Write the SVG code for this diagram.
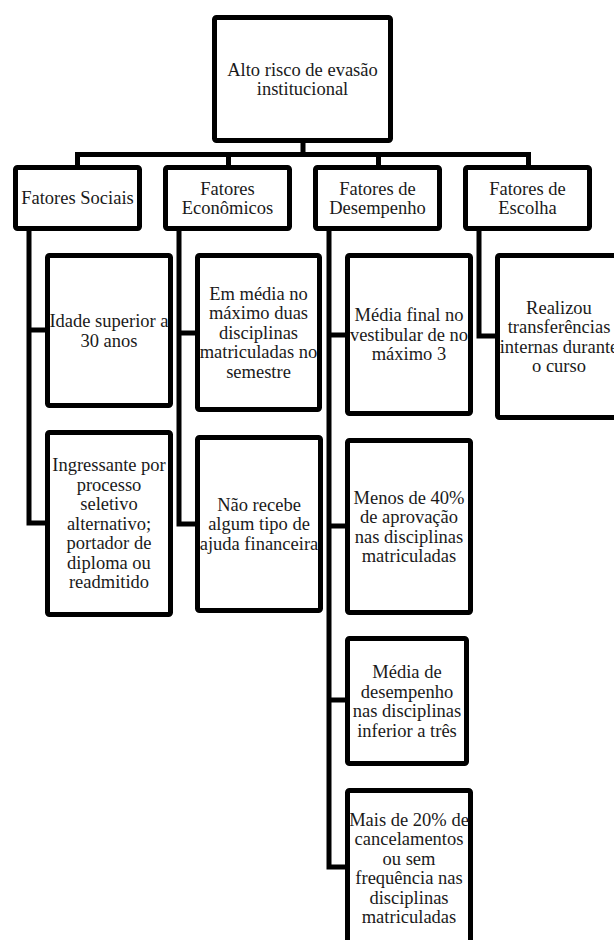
<svg xmlns="http://www.w3.org/2000/svg" width="614" height="940" viewBox="0 0 614 940">
<style>
.box{fill:#fff;stroke:#000;stroke-width:5;}
.conn{fill:none;stroke:#000;stroke-width:5;stroke-linejoin:miter;}
.t{font-size:18.5px;fill:#1a1a1a;text-anchor:middle;}
</style>
<rect width="614" height="940" fill="#fff"/>
<g id="connectors">
<path class="conn" d="M303 141 V154.5 M77.5 165 V154.5 H528.5 V165 M228.5 154.5 V165 M378.5 154.5 V165"/>
<path class="conn" d="M29 229 V523 H47 M29 330 H47"/>
<path class="conn" d="M179 229 V524 H197 M179 333 H197"/>
<path class="conn" d="M329 229 V867 H347 M329 335 H347 M329 526 H347 M329 700 H347"/>
<path class="conn" d="M479 229 V336 H497"/>
</g>
<g font-family="Liberation Serif, Times New Roman, Times, serif">
<g id="root">
<rect class="box" x="214.5" y="17.5" width="176" height="123" rx="2"/>
<text class="t"><tspan x="302.5" y="75.5">Alto risco de evasão</tspan><tspan x="302.5" y="95">institucional</tspan></text>
</g>
<g id="fatores-sociais">
<rect class="box" x="15.5" y="167.5" width="124" height="61" rx="2"/>
<text class="t" x="77.5" y="204.3">Fatores Sociais</text>
</g>
<g id="fatores-economicos">
<rect class="box" x="165.5" y="167.5" width="124" height="61" rx="2"/>
<text class="t"><tspan x="227.5" y="194.5">Fatores</tspan><tspan x="227.5" y="214">Econômicos</tspan></text>
</g>
<g id="fatores-desempenho">
<rect class="box" x="315.5" y="167.5" width="124" height="61" rx="2"/>
<text class="t"><tspan x="377.5" y="194.5">Fatores de</tspan><tspan x="377.5" y="214">Desempenho</tspan></text>
</g>
<g id="fatores-escolha">
<rect class="box" x="465.5" y="167.5" width="124" height="61" rx="2"/>
<text class="t"><tspan x="527.5" y="194.5">Fatores de</tspan><tspan x="527.5" y="214">Escolha</tspan></text>
</g>
<g id="social-1">
<rect class="box" x="47.5" y="255.5" width="123" height="150" rx="2"/>
<text class="t"><tspan x="109" y="327">Idade superior a</tspan><tspan x="109" y="346.5">30 anos</tspan></text>
</g>
<g id="social-2">
<rect class="box" x="47.5" y="432.5" width="123" height="182" rx="2"/>
<text class="t"><tspan x="109" y="471.3">Ingressante por</tspan><tspan x="109" y="490.8">processo</tspan><tspan x="109" y="510.3">seletivo</tspan><tspan x="109" y="529.8">alternativo;</tspan><tspan x="109" y="549.3">portador de</tspan><tspan x="109" y="568.8">diploma ou</tspan><tspan x="109" y="588.3">readmitido</tspan></text>
</g>
<g id="econ-1">
<rect class="box" x="197.5" y="255.5" width="122" height="154" rx="2"/>
<text class="t"><tspan x="258.5" y="299.8">Em média no</tspan><tspan x="258.5" y="319.3">máximo duas</tspan><tspan x="258.5" y="338.8">disciplinas</tspan><tspan x="258.5" y="358.3">matriculadas no</tspan><tspan x="258.5" y="377.8">semestre</tspan></text>
</g>
<g id="econ-2">
<rect class="box" x="197.5" y="437.5" width="123" height="173" rx="2"/>
<text class="t"><tspan x="259" y="510.8">Não recebe</tspan><tspan x="259" y="530.3">algum tipo de</tspan><tspan x="259" y="549.8">ajuda financeira</tspan></text>
</g>
<g id="desemp-1">
<rect class="box" x="347.5" y="255.5" width="123" height="158" rx="2"/>
<text class="t"><tspan x="409" y="321.3">Média final no</tspan><tspan x="409" y="340.8">vestibular de no</tspan><tspan x="409" y="360.3">máximo 3</tspan></text>
</g>
<g id="desemp-2">
<rect class="box" x="347.5" y="440.5" width="123" height="172" rx="2"/>
<text class="t"><tspan x="409" y="503.5">Menos de 40%</tspan><tspan x="409" y="523">de aprovação</tspan><tspan x="409" y="542.5">nas disciplinas</tspan><tspan x="409" y="562">matriculadas</tspan></text>
</g>
<g id="desemp-3">
<rect class="box" x="347.5" y="638.5" width="119" height="125" rx="2"/>
<text class="t"><tspan x="407" y="678">Média de</tspan><tspan x="407" y="697.5">desempenho</tspan><tspan x="407" y="717">nas disciplinas</tspan><tspan x="407" y="736.5">inferior a três</tspan></text>
</g>
<g id="desemp-4">
<rect class="box" x="347.5" y="790.5" width="123" height="155" rx="2"/>
<text class="t"><tspan x="409" y="825.5">Mais de 20% de</tspan><tspan x="409" y="845">cancelamentos</tspan><tspan x="409" y="864.5">ou sem</tspan><tspan x="409" y="884">frequência nas</tspan><tspan x="409" y="903.5">disciplinas</tspan><tspan x="409" y="923">matriculadas</tspan></text>
</g>
<g id="escolha-1">
<rect class="box" x="497.5" y="255.5" width="123" height="162" rx="2"/>
<text class="t"><tspan x="559" y="313.5">Realizou</tspan><tspan x="559" y="333">transferências</tspan><tspan x="559" y="352.5">internas durante</tspan><tspan x="559" y="372">o curso</tspan></text>
</g>
</g>
</svg>
